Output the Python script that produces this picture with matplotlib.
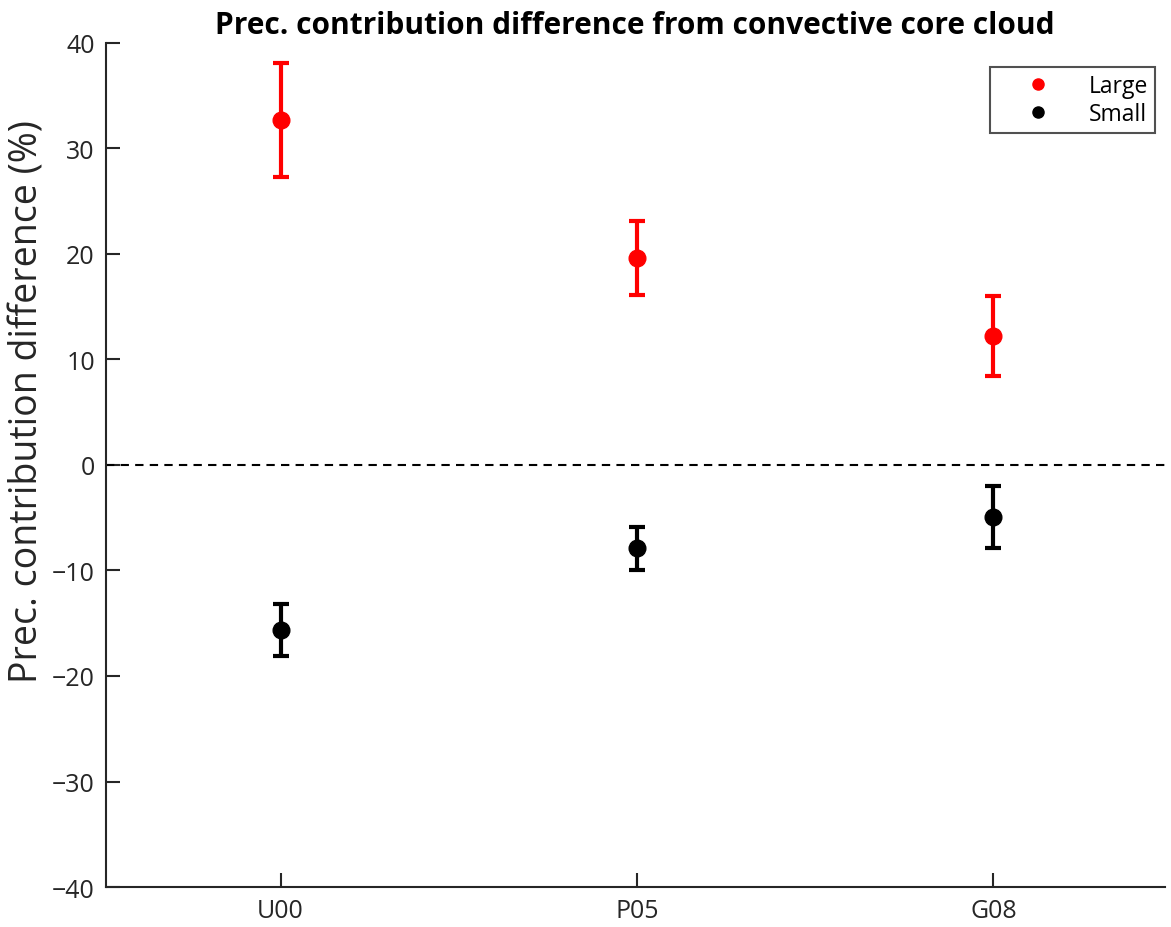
import numpy as np
import matplotlib
matplotlib.use("Agg")
import matplotlib.pyplot as plt

plt.rcParams['font.family'] = ['Open Sans', 'DejaVu Sans']

# data
models = ['U00', 'P05', 'G08']
large_mean = [32.7, 19.6, 12.2]
large_lo = [27.3, 16.1, 8.4]
large_hi = [38.1, 23.1, 16.0]
small_mean = [-15.6, -7.9, -4.9]
small_lo = [-18.1, -9.95, -7.9]
small_hi = [-13.2, -5.9, -2.0]

x = np.arange(1, len(models) + 1)
large_err = [np.array(large_mean) - np.array(large_lo), np.array(large_hi) - np.array(large_mean)]
small_err = [np.array(small_mean) - np.array(small_lo), np.array(small_hi) - np.array(small_mean)]

fig = plt.figure(figsize=(11.71, 9.28), dpi=100)
ax = fig.add_axes([0.0905, 0.0431, 0.904, 0.9095])

ax.axhline(0, color='k', ls='--', lw=1.5, dashes=(4, 3))
ax.errorbar(x, large_mean, yerr=large_err, fmt='o', color='red', ms=12,
            elinewidth=3, capsize=6, capthick=3, label='Large')
ax.errorbar(x, small_mean, yerr=small_err, fmt='o', color='black', ms=12,
            elinewidth=3, capsize=6, capthick=3, label='Small')

ax.set_xlim(0.51, 3.48)
ax.set_ylim(-40, 40)
ax.set_xticks(x)
ax.set_xticklabels(models)
ax.set_yticks(np.arange(-40, 41, 10))
ax.set_yticklabels([str(v).replace('-', '\u2212') for v in range(-40, 41, 10)])

for s in ['top', 'right']:
    ax.spines[s].set_visible(False)
for s in ['left', 'bottom']:
    ax.spines[s].set_color('#262626')
    ax.spines[s].set_linewidth(1.5)
ax.tick_params(direction='in', length=10, width=1.5, color='#262626',
               labelsize=18, labelcolor='#262626', pad=8)

ax.set_ylabel('Prec. contribution difference (%)', fontsize=27, color='#262626')
ax.yaxis.set_label_coords(-0.0565, 0.576)
ax.set_title('Prec. contribution difference from convective core cloud',
             fontsize=21.5, fontweight='bold', pad=7)

handles, labels = ax.get_legend_handles_labels()
h = [plt.Line2D([], [], marker='o', ls='none', color=c, ms=8) for c in ['red', 'black']]
leg = ax.legend(h, labels, loc='upper right', bbox_to_anchor=(0.9906, 0.9716),
                borderaxespad=0, fontsize=16.5, frameon=True, fancybox=False,
                handlelength=3.6, handletextpad=0.4, borderpad=0.3, labelspacing=0.2)
leg.get_frame().set_edgecolor('#262626')
leg.get_frame().set_linewidth(1.5)

plt.savefig('out.png', dpi=100)
